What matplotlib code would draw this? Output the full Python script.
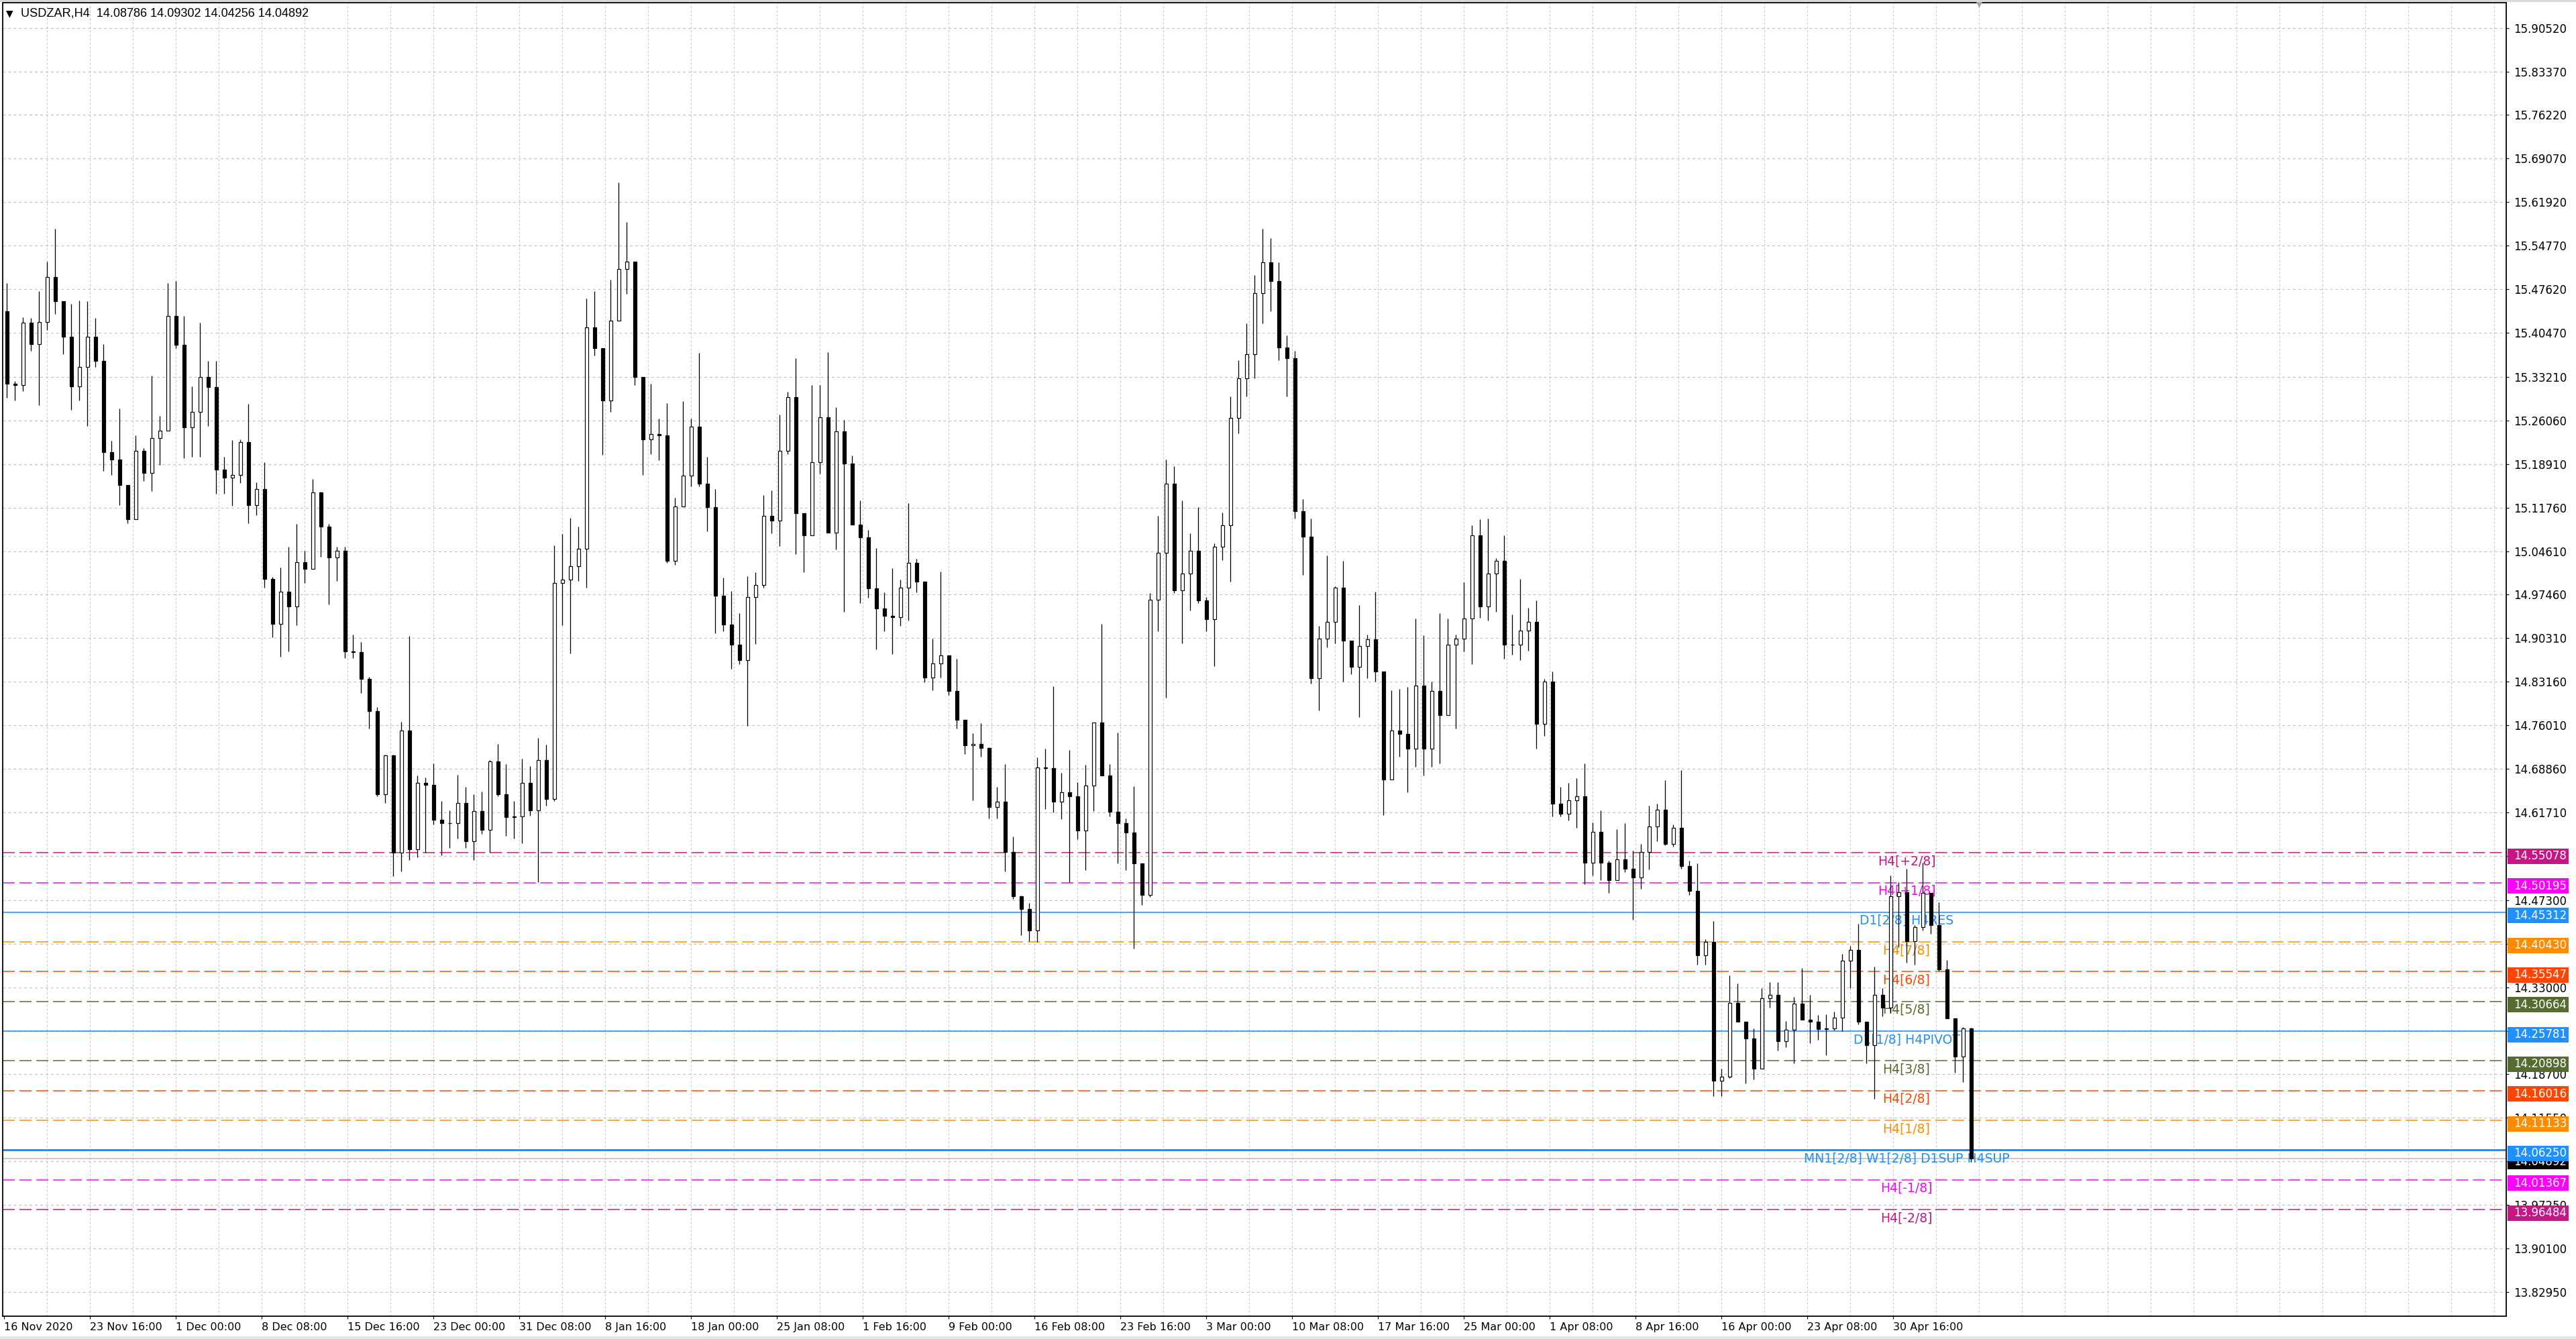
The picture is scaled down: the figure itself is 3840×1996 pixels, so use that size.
import numpy as np
import matplotlib
matplotlib.use("Agg")
import matplotlib.pyplot as plt
from matplotlib import transforms
from matplotlib.patches import Rectangle

# USDZAR H4 - one candle here = 3 H4 bars, prices
first_open = 15.44
highs = [15.486, 15.325, 15.430, 15.429, 15.473, 15.521, 15.575, 15.456, 15.452, 15.458,
         15.456, 15.429, 15.386, 15.227, 15.280, 15.155, 15.236, 15.215, 15.334, 15.268,
         15.486, 15.489, 15.432, 15.317, 15.421, 15.359, 15.359, 15.201, 15.228, 15.230,
         15.288, 15.159, 15.192, 15.004, 15.019, 15.053, 15.091, 15.047, 15.165, 15.144,
         15.091, 15.053, 15.053, 14.909, 14.897, 14.840, 14.790, 14.712, 14.712, 14.766,
         14.907, 14.678, 14.674, 14.697, 14.636, 14.620, 14.679, 14.659, 14.647, 14.651,
         14.703, 14.729, 14.696, 14.636, 14.705, 14.693, 14.739, 14.728, 15.055, 15.074,
         15.101, 15.086, 15.461, 15.473, 15.348, 15.492, 15.652, 15.586, 15.521, 15.332,
         15.321, 15.264, 15.289, 15.134, 15.292, 15.264, 15.372, 15.201, 15.148, 15.003,
         14.981, 14.944, 15.005, 15.012, 15.138, 15.146, 15.270, 15.308, 15.363, 15.096,
         15.319, 15.319, 15.373, 15.282, 15.262, 15.203, 15.129, 15.081, 15.051, 14.978,
         15.018, 14.999, 15.125, 15.033, 14.993, 14.902, 15.013, 14.875, 14.869, 14.768,
         14.747, 14.764, 14.724, 14.659, 14.696, 14.577, 14.481, 14.468, 14.707, 14.722,
         14.824, 14.682, 14.720, 14.667, 14.695, 14.765, 14.927, 14.696, 14.748, 14.607,
         14.660, 14.533, 14.977, 15.104, 15.196, 15.186, 15.129, 15.075, 15.118, 14.971,
         15.059, 15.110, 15.300, 15.360, 15.420, 15.500, 15.575, 15.560, 15.520, 15.400,
         15.375, 15.131, 15.100, 14.923, 15.039, 14.988, 15.030, 14.899, 14.958, 14.909,
         14.979, 14.848, 14.818, 14.820, 14.823, 14.935, 14.908, 14.832, 14.944, 14.935,
         14.909, 14.995, 15.089, 15.098, 15.100, 15.035, 15.072, 14.942, 15.000, 14.953,
         14.965, 14.836, 14.848, 14.659, 14.666, 14.673, 14.697, 14.601, 14.620, 14.538,
         14.590, 14.599, 14.554, 14.565, 14.628, 14.631, 14.670, 14.597, 14.687, 14.538,
         14.533, 14.409, 14.439, 14.196, 14.349, 14.336, 14.263, 14.262, 14.329, 14.338,
         14.338, 14.275, 14.314, 14.361, 14.318, 14.284, 14.286, 14.290, 14.385, 14.398,
         14.434, 14.273, 14.364, 14.328, 14.514, 14.502, 14.525, 14.432, 14.535, 14.446,
         14.469, 14.375, 14.279, 14.265, 14.263]
lows = [15.298, 15.294, 15.309, 15.375, 15.286, 15.409, 15.436, 15.369, 15.278, 15.294,
        15.252, 15.348, 15.178, 15.171, 15.122, 15.092, 15.099, 15.161, 15.145, 15.188,
        15.244, 15.379, 15.199, 15.201, 15.201, 15.252, 15.140, 15.140, 15.121, 15.158,
        15.092, 15.105, 14.986, 14.905, 14.873, 14.882, 14.924, 14.994, 15.017, 15.037,
        14.959, 14.997, 14.870, 14.870, 14.813, 14.755, 14.643, 14.632, 14.512, 14.520,
        14.539, 14.543, 14.551, 14.597, 14.547, 14.559, 14.574, 14.559, 14.539, 14.582,
        14.551, 14.643, 14.578, 14.574, 14.566, 14.612, 14.503, 14.628, 14.636, 14.924,
        14.878, 14.997, 14.986, 15.367, 15.204, 15.275, 15.425, 15.469, 15.319, 15.171,
        15.205, 15.195, 15.027, 15.024, 15.119, 15.153, 15.153, 15.079, 14.911, 14.915,
        14.853, 14.860, 14.759, 14.894, 14.986, 15.075, 15.054, 15.205, 15.041, 15.012,
        15.072, 15.173, 15.076, 15.049, 14.946, 15.090, 14.961, 14.970, 14.885, 14.915,
        14.877, 14.923, 14.932, 14.978, 14.831, 14.818, 14.839, 14.810, 14.755, 14.713,
        14.637, 14.709, 14.607, 14.607, 14.520, 14.475, 14.415, 14.406, 14.404, 14.623,
        14.617, 14.606, 14.503, 14.573, 14.522, 14.619, 14.678, 14.611, 14.533, 14.522,
        14.394, 14.465, 14.478, 14.914, 14.805, 14.977, 14.895, 14.949, 14.961, 14.914,
        14.857, 15.031, 14.996, 15.240, 15.300, 15.330, 15.420, 15.440, 15.360, 15.300,
        15.100, 15.007, 14.829, 14.785, 14.888, 14.895, 14.832, 14.844, 14.774, 14.837,
        14.832, 14.613, 14.709, 14.708, 14.650, 14.692, 14.678, 14.692, 14.697, 14.777,
        14.755, 14.881, 14.860, 14.937, 14.932, 14.946, 14.869, 14.876, 14.867, 14.883,
        14.722, 14.743, 14.611, 14.610, 14.604, 14.592, 14.499, 14.513, 14.506, 14.485,
        14.506, 14.519, 14.441, 14.491, 14.524, 14.570, 14.563, 14.561, 14.525, 14.482,
        14.367, 14.367, 14.151, 14.151, 14.181, 14.273, 14.172, 14.179, 14.196, 14.297,
        14.226, 14.232, 14.205, 14.277, 14.238, 14.244, 14.218, 14.259, 14.258, 14.329,
        14.269, 14.205, 14.147, 14.282, 14.289, 14.396, 14.370, 14.367, 14.423, 14.418,
        14.357, 14.279, 14.190, 14.174, 14.043]
closes = [15.321, 15.319, 15.421, 15.386, 15.422, 15.496, 15.456, 15.398, 15.317, 15.348,
          15.398, 15.359, 15.209, 15.196, 15.155, 15.099, 15.211, 15.175, 15.232, 15.244,
          15.432, 15.385, 15.249, 15.275, 15.332, 15.315, 15.180, 15.167, 15.171, 15.225,
          15.122, 15.148, 15.000, 14.927, 14.980, 14.955, 15.028, 15.017, 15.142, 15.086,
          15.036, 15.047, 14.882, 14.880, 14.836, 14.783, 14.647, 14.711, 14.551, 14.751,
          14.557, 14.666, 14.662, 14.605, 14.599, 14.599, 14.632, 14.570, 14.619, 14.588,
          14.701, 14.647, 14.609, 14.611, 14.666, 14.620, 14.703, 14.639, 14.994, 14.999,
          15.021, 15.050, 15.413, 15.379, 15.294, 15.425, 15.509, 15.521, 15.332, 15.230,
          15.238, 15.236, 15.030, 15.119, 15.170, 15.251, 15.157, 15.118, 14.973, 14.926,
          14.892, 14.867, 14.971, 14.991, 15.104, 15.096, 15.211, 15.299, 15.108, 15.072,
          15.192, 15.266, 15.076, 15.243, 15.190, 15.090, 15.069, 14.985, 14.952, 14.940,
          14.938, 14.986, 15.027, 14.996, 14.839, 14.862, 14.875, 14.817, 14.769, 14.727,
          14.729, 14.723, 14.626, 14.635, 14.552, 14.479, 14.459, 14.423, 14.691, 14.690,
          14.635, 14.650, 14.644, 14.587, 14.661, 14.765, 14.678, 14.618, 14.599, 14.584,
          14.533, 14.482, 14.966, 15.043, 15.157, 14.982, 15.009, 15.047, 14.965, 14.934,
          15.053, 15.089, 15.265, 15.330, 15.370, 15.470, 15.520, 15.490, 15.380, 15.363,
          15.112, 15.070, 14.837, 14.902, 14.930, 14.986, 14.899, 14.856, 14.890, 14.901,
          14.848, 14.671, 14.751, 14.746, 14.722, 14.825, 14.722, 14.816, 14.777, 14.892,
          14.902, 14.935, 15.072, 14.955, 15.009, 15.030, 14.892, 14.892, 14.916, 14.930,
          14.763, 14.832, 14.631, 14.615, 14.637, 14.643, 14.534, 14.585, 14.535, 14.506,
          14.540, 14.525, 14.510, 14.552, 14.594, 14.621, 14.565, 14.592, 14.529, 14.488,
          14.383, 14.404, 14.176, 14.183, 14.304, 14.273, 14.246, 14.196, 14.312, 14.317,
          14.241, 14.260, 14.303, 14.277, 14.273, 14.261, 14.262, 14.280, 14.374, 14.391,
          14.273, 14.235, 14.318, 14.297, 14.479, 14.486, 14.406, 14.429, 14.485, 14.432,
          14.359, 14.279, 14.216, 14.262, 14.049]

tick_prices = [15.90520, 15.83370, 15.76220, 15.69070, 15.61920, 15.54770, 15.47620,
               15.40470, 15.33210, 15.26060, 15.18910, 15.11760, 15.04610, 14.97460,
               14.90310, 14.83160, 14.76010, 14.68860, 14.61710, 14.54560, 14.47300,
               14.40150, 14.33000, 14.25850, 14.18700, 14.11550, 14.04400, 13.97250,
               13.90100, 13.82950]

date_labels = ["16 Nov 2020", "23 Nov 16:00", "1 Dec 00:00", "8 Dec 08:00", "15 Dec 16:00",
               "23 Dec 00:00", "31 Dec 08:00", "8 Jan 16:00", "18 Jan 00:00", "25 Jan 08:00",
               "1 Feb 16:00", "9 Feb 00:00", "16 Feb 08:00", "23 Feb 16:00", "3 Mar 00:00",
               "10 Mar 08:00", "17 Mar 16:00", "25 Mar 00:00", "1 Apr 08:00", "8 Apr 16:00",
               "16 Apr 00:00", "23 Apr 08:00", "30 Apr 16:00"]

level_prices = [14.55078, 14.50195, 14.45312, 14.40430, 14.35547, 14.30664, 14.25781,
                14.20898, 14.16016, 14.11133, 14.06250, 14.01367, 13.96484]
level_names = ["H4[+2/8]", "H4[+1/8]", "D1[2/8] H4RES", "H4[7/8]", "H4[6/8]", "H4[5/8]",
               "D1[1/8] H4PIVOT", "H4[3/8]", "H4[2/8]", "H4[1/8]",
               "MN1[2/8] W1[2/8] D1SUP H4SUP", "H4[-1/8]", "H4[-2/8]"]
level_colors = ["#C71585", "#FF00FF", "#1E90FF", "#FF8C00", "#FF4500", "#556B2F", "#1E90FF",
                "#556B2F", "#FF4500", "#FF8C00", "#1E90FF", "#FF00FF", "#C71585"]
level_solid = [False, False, True, False, False, False, True,
               False, False, False, True, False, False]

bid_price = 14.04892
header = "USDZAR,H4  14.08786 14.09302 14.04256 14.04892"

W, H, DPI = 3840, 1996, 100
PX = 72.0 / DPI  # one pixel in points

fig = plt.figure(figsize=(W / DPI, H / DPI), dpi=DPI, facecolor="white")
ax = fig.add_axes([4 / W, 34 / H, 3732 / W, 1958 / H])
ax.set_facecolor("white")
ax.set_xlim(-0.5, 932.5)
ax.set_ylim(13.7898, 15.9467)
px_price = (15.9467 - 13.7898) / 1958.0

# grid
for p in tick_prices:
    ax.axhline(p, color="#c4c4c4", lw=1.2 * PX, ls=(0, (3.3, 3.3)), zorder=1)
for j in range(1, 59):
    ax.axvline(16 * j, color="#c4c4c4", lw=1.2 * PX, ls=(0, (2.5, 2.5)), zorder=1)

# levels
for p, col, solid in zip(level_prices, level_colors, level_solid):
    if solid:
        lw = 3.0 if p == 14.06250 else 1.6
        ax.axhline(p, color=col, lw=lw * PX, zorder=2)
    else:
        ax.axhline(p, color=col, lw=1.5 * PX, ls=(0, (12, 4.7)), zorder=2)
ax.axhline(bid_price, color="#b8b8b8", lw=1.5 * PX, zorder=2)

for p, name, col in zip(level_prices, level_names, level_colors):
    ax.annotate(name, xy=(709, p), xytext=(0, -3 * PX), textcoords="offset points",
                ha="center", va="top", fontsize=13.5, color=col, zorder=3)

# candles
n = len(closes)
o = np.array([first_open] + closes[:-1])
c = np.array(closes)
hi = np.maximum(np.array(highs), np.maximum(o, c))
lo = np.minimum(np.array(lows), np.minimum(o, c))
xs = np.arange(n) * 3 + 1
ax.vlines(xs, lo, hi, color="black", lw=1.3 * PX, zorder=4)
up = c >= o
ax.bar(xs[up], c[up] - o[up], bottom=o[up], width=1.25, facecolor="white",
       edgecolor="black", linewidth=1.2 * PX, zorder=5)
ax.bar(xs[~up], o[~up] - c[~up], bottom=c[~up], width=1.25, facecolor="black",
       edgecolor="black", linewidth=1.2 * PX, zorder=5)

# axes / ticks
for s in ax.spines.values():
    s.set_color("black")
    s.set_linewidth(1.8 * PX)
ax.yaxis.tick_right()
ax.set_yticks(tick_prices)
ax.set_yticklabels([f"{p:.5f}" for p in tick_prices])
ax.set_xticks(np.arange(len(date_labels)) * 32)
ax.set_xticklabels(date_labels)
for lab in ax.get_xticklabels():
    lab.set_ha("left")
ax.tick_params(axis="y", direction="out", length=4 * PX, width=1.2 * PX, pad=7 * PX,
               labelsize=12, colors="black")
ax.tick_params(axis="x", direction="out", length=4 * PX, width=1.2 * PX, pad=5 * PX,
               labelsize=11.5, colors="black")

# price boxes on the right axis (drawn a few px below their level, as MT4 does)
trans = transforms.blended_transform_factory(ax.transAxes, ax.transData)
txt_trans = transforms.offset_copy(trans, fig=fig, x=11, y=-5, units="dots")
box_w = 91 / 3732
box_h = 23 * px_price
shift = 5 * px_price
ax.add_patch(Rectangle((1.0006, bid_price - shift - box_h / 2), box_w, box_h,
                       transform=trans, facecolor="black", edgecolor="none",
                       clip_on=False, zorder=6))
ax.text(1.0, bid_price, f"{bid_price:.5f}", transform=txt_trans, ha="left", va="center",
        fontsize=12, color="white", clip_on=False, zorder=6.5)
for p, col in zip(level_prices, level_colors):
    ax.add_patch(Rectangle((1.0006, p - shift - box_h / 2), box_w, box_h, transform=trans,
                           facecolor=col, edgecolor="none", clip_on=False, zorder=7))
    ax.text(1.0, p, f"{p:.5f}", transform=txt_trans, ha="left", va="center",
            fontsize=12, color="white", clip_on=False, zorder=8)

# chart shift marker
ax.plot([736], [15.9467], marker="v", color="#a8a8a8", ms=9, clip_on=False, zorder=9)

# header
fig.text(9 / W, 1 - 20 / H, "\u25bc", fontsize=10, va="center", ha="left",
         family="DejaVu Sans", color="black")
fig.text(31 / W, 1 - 20 / H, header, fontsize=13.1, va="center", ha="left",
         family=["Liberation Sans", "DejaVu Sans"], color="black")

# window edges
fig.patches.append(Rectangle((0, 1 - 3 / H), 1, 3 / H, transform=fig.transFigure,
                             facecolor="#d8d8d8", edgecolor="none"))
fig.patches.append(Rectangle((0, 0), 1, 4 / H, transform=fig.transFigure,
                             facecolor="#e6e6e6", edgecolor="none"))

fig.savefig("out.png", dpi=DPI, facecolor="white")
